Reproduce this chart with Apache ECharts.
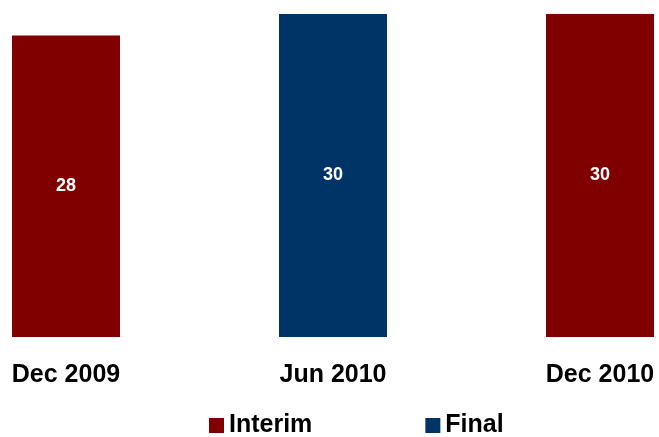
<!DOCTYPE html>
<html>
<head>
<meta charset="utf-8">
<script src="https://cdn.jsdelivr.net/npm/echarts@6/dist/echarts.min.js"></script>
<style>
  html, body { margin: 0; padding: 0; background: #ffffff; }
  #chart { width: 659px; height: 437px; }
</style>
</head>
<body>
<div id="chart"></div>
<script>
// Dividend periods and amounts
const categories = ['Dec 2009', 'Jun 2010', 'Dec 2010'];
const interimValues = [28, null, 30];
const finalValues = [null, 30, null];

const FONT = '"Liberation Sans", Arial, sans-serif';

const chart = echarts.init(document.getElementById('chart'), null, { renderer: 'canvas' });

const valueLabel = {
  show: true,
  position: 'inside',
  color: '#ffffff',
  fontFamily: FONT,
  fontWeight: 'bold',
  fontSize: 18
};

chart.setOption({
  animation: false,
  backgroundColor: '#ffffff',
  grid: { left: 66, right: 59, top: 14, bottom: 100, containLabel: false },
  xAxis: {
    type: 'category',
    data: categories,
    boundaryGap: false,
    axisLine: { show: false },
    axisTick: { show: false },
    splitLine: { show: false },
    axisLabel: {
      margin: 26,
      color: '#000000',
      fontFamily: FONT,
      fontWeight: 'bold',
      fontSize: 25
    }
  },
  yAxis: {
    type: 'value',
    min: 0,
    max: 30,
    show: false,
    splitLine: { show: false }
  },
  legend: {
    left: 209,
    top: 413,
    padding: 0,
    icon: 'rect',
    itemWidth: 15,
    itemHeight: 15,
    itemGap: 113,
    textStyle: {
      color: '#000000',
      fontFamily: FONT,
      fontWeight: 'bold',
      fontSize: 25
    },
    data: ['Interim', 'Final']
  },
  series: [
    {
      name: 'Interim',
      type: 'bar',
      stack: 'div',
      barWidth: 108,
      itemStyle: { color: '#800000' },
      label: valueLabel,
      data: interimValues
    },
    {
      name: 'Final',
      type: 'bar',
      stack: 'div',
      barWidth: 108,
      itemStyle: { color: '#003366' },
      label: valueLabel,
      data: finalValues
    }
  ]
});
</script>
</body>
</html>
